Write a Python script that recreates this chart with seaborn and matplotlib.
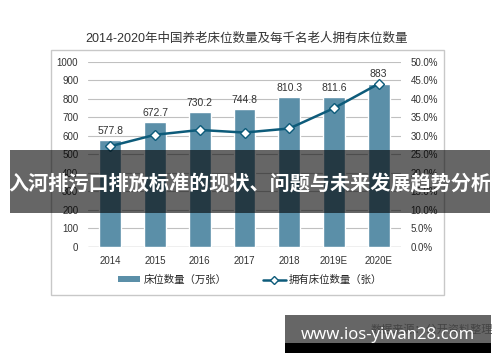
import numpy as np
import pandas as pd
import matplotlib
matplotlib.use("Agg")
import matplotlib.pyplot as plt
import seaborn as sns
from matplotlib.patches import Rectangle, Patch
from matplotlib.lines import Line2D
from matplotlib.ticker import FuncFormatter

# data
years = ["2014", "2015", "2016", "2017", "2018", "2019E", "2020E"]
beds = [577.8, 672.7, 730.2, 744.8, 810.3, 811.6, 883]
beds_per_1000 = [27.2, 30.3, 31.6, 30.9, 32.0, 37.5, 44.1]

title = "2014-2020年中国养老床位数量及每千名老人拥有床位数量"
bar_label = "床位数量（万张）"
line_label = "拥有床位数量（张）"
banner = "入河排污口排放标准的现状、问题与未来发展趋势分析"
source = "数据来源：公开资料整理"
site = "www.ios-yiwan28.com"

sns.set_theme(style="white")
plt.rcParams["font.family"] = ["Liberation Sans", "Noto Sans CJK SC", "DejaVu Sans"]

bar_color = "#5b8fa8"
line_color = "#0d5b7a"

df = pd.DataFrame({"year": years, "beds": beds, "rate": beds_per_1000})

fig = plt.figure(figsize=(5, 3.62), dpi=100)
W, H = 500, 362

# outer frame
fig.patches.append(Rectangle((51 / W, 1 - 295 / H), (444 - 51) / W, (295 - 50) / H,
                             transform=fig.transFigure, fill=False, edgecolor="#c8c8c8", lw=1))

ax = fig.add_axes([88 / W, 1 - 246.7 / H, (401 - 88) / W, (246.7 - 62) / H])
sns.barplot(data=df, x="year", y="beds", color=bar_color, width=0.49, saturation=1, ax=ax, zorder=2)
ax.set_ylim(0, 1000)
ax.set_yticks(range(0, 1001, 100))
ax.yaxis.grid(True, color="#c0c0c0", lw=0.8, zorder=0)
ax.set_axisbelow(True)
for s in ax.spines.values():
    s.set_visible(False)
ax.axhline(0, color="#a0a0a0", lw=0.9, zorder=1)
ax.set_xlabel("")
ax.set_ylabel("")
ax.tick_params(axis="y", length=0, pad=7, labelsize=7, labelcolor="#333333")
ax.tick_params(axis="x", length=0, pad=7, labelsize=7, labelcolor="#333333")

for i, v in enumerate(beds):
    ax.annotate(f"{v:g}", (i, v), xytext=(0, 3), textcoords="offset points",
                ha="center", va="bottom", fontsize=7.5, color="#333333")

ax2 = ax.twinx()
sns.pointplot(data=df, x="year", y="rate", color=line_color, markers="D",
              markersize=5, linewidth=1.8, ax=ax2)
for ln in ax2.lines:
    ln.set_markerfacecolor("white")
    ln.set_markeredgecolor(line_color)
    ln.set_markeredgewidth(1.0)
ax2.set_ylim(0, 50)
ax2.set_yticks(range(0, 51, 5))
ax2.yaxis.set_major_formatter(FuncFormatter(lambda v, p: f"{v:.1f}%"))
for s in ax2.spines.values():
    s.set_visible(False)
ax2.set_ylabel("")
ax2.grid(False)
ax2.tick_params(axis="y", length=0, pad=7, labelsize=7, labelcolor="#333333")

fig.text(247 / W, 1 - 39 / H, title, ha="center", va="center", fontsize=9,
         color="#333333", family=["Liberation Sans", "Noto Sans CJK SC"])

handles = [Patch(facecolor=bar_color, edgecolor="none"),
           Line2D([0], [0], color=line_color, lw=1.8, marker="D", markersize=4,
                  markerfacecolor="white", markeredgecolor=line_color)]
fig.legend(handles, [bar_label, line_label], loc="center", bbox_to_anchor=(250 / W, 1 - 280 / H),
           ncol=2, frameon=False, fontsize=7.5, handlelength=2.2, handleheight=0.5,
           columnspacing=3.5, handletextpad=0.3)

# source text and watermark
fig.text(493 / W, 1 - 330 / H, source, ha="right", va="center", fontsize=8, color="#444444")
fig.patches.append(Rectangle((285 / W, 1 - 343 / H), (491 - 285) / W, (343 - 315) / H,
                             transform=fig.transFigure, color="black", alpha=0.6, lw=0))
fig.patches.append(Rectangle((285 / W, 1 - 352.5 / H), (491 - 285) / W, (352.5 - 343) / H,
                             transform=fig.transFigure, color="black", lw=0))
fig.text(388 / W, 1 - 335 / H, site, ha="center", va="center", fontsize=12,
         fontweight="bold", color="white", family=["Noto Sans", "DejaVu Sans"])

# banner overlay
fig.patches.append(Rectangle((10 / W, 1 - 212.7 / H), (490 - 10) / W, (212.7 - 150) / H,
                             transform=fig.transFigure, color="black", alpha=0.6, lw=0, zorder=10))
fig.text(250 / W, 1 - 184 / H, banner, ha="center", va="center", fontsize=14.5,
         fontweight="bold", color="white", family=["Noto Sans CJK SC"], zorder=11)

fig.savefig("out.png", dpi=100)
